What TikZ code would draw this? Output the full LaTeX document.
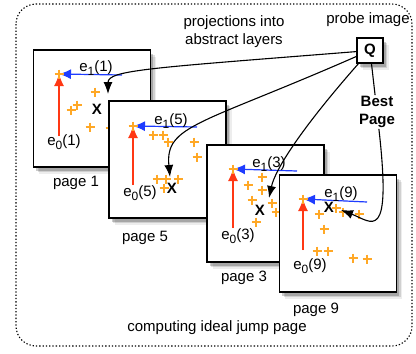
\documentclass[tikz,border=0pt]{standalone}
\usepackage{fontspec}
\setmainfont{Liberation Sans}
\usetikzlibrary{arrows.meta, calc, shadows}
\definecolor{axisred}{RGB}{255,56,20}
\definecolor{axisblue}{RGB}{30,60,255}
\definecolor{dotorange}{RGB}{255,168,38}
\newcommand{\lowidx}[1]{\raisebox{-0.6ex}{\fontsize{12}{12}\selectfont #1}}
\newcommand{\figfont}{\fontsize{15}{18}\selectfont}
\tikzset{
    soft_shadow/.style={
        general shadow={shadow xshift=5.5pt, shadow yshift=-6.5pt, fill=black, opacity=0.07},
        general shadow={shadow xshift=4pt, shadow yshift=-5pt, fill=black, opacity=0.12},
        general shadow={shadow xshift=2.5pt, shadow yshift=-3.5pt, fill=black, opacity=0.2}
    },
    page_box/.style={
        rectangle, draw=black, line width=1.1pt, fill=white,
        minimum width=117pt, minimum height=117pt, inner sep=0pt, soft_shadow
    },
    probe_box/.style={
        rectangle, draw=black, line width=1.1pt, fill=white,
        minimum width=26pt, minimum height=25pt, inner sep=0pt,
        font=\figfont\bfseries, soft_shadow
    },
    frame_line/.style={line width=1.1pt, dash pattern=on 1.3pt off 2pt, rounded corners=20pt},
    red_axis/.style={-{Latex[length=12pt, width=10pt]}, draw=axisred, fill=axisred, line width=1.2pt},
    blue_axis/.style={-{Latex[length=12pt, width=10pt]}, draw=axisblue, fill=axisblue, line width=1.2pt},
    jump_arrow/.style={-{Latex[length=12pt, width=9pt]}, draw=black, line width=1.1pt},
    plus_mark/.style={draw=dotorange, line width=1.3pt},
    lbl/.style={inner sep=1pt},
    cross_lbl/.style={inner sep=1pt, font=\figfont\bfseries}
}

\begin{document}
\begin{tikzpicture}[x=1pt, y=-1pt, font=\figfont]

    \useasboundingbox (0,0) rectangle (416,354);
    \draw[frame_line] (16,4) rectangle (412,346);

    \node[lbl, align=center] (proj) at (234,32) {projections into\\abstract layers};
    \node[lbl] (probe) at (368,20) {probe image};
    \node[lbl] (ideal) at (217,328) {computing ideal jump page};

    % page 1
    \node[page_box] (p1) at (92,108.5) {};
    \coordinate (c1) at (59,74);
    \coordinate (r1) at (59,136);
    \coordinate (b1) at (122,75);
    \draw[red_axis] (r1) -- (c1);
    \draw[blue_axis] (b1) -- (c1);
    \node[lbl] (e1p1) at (96,68) {e\lowidx{1}(1)};
    \node[lbl] (e0p1) at (64,142) {e\lowidx{0}(1)};
    \node[cross_lbl] (x1) at (97,109) {X};
    \foreach \px/\py in {59/74, 95/92, 71/110, 77/105, 90/127, 110/128}
        \draw[plus_mark] (\px,\py) +(-4.5,0) -- +(4.5,0) +(0,-4.5) -- +(0,4.5);
    \node[lbl] (name1) at (76,183) {page 1};

    % page 5
    \node[page_box] (p5) at (167.5,159.5) {};
    \coordinate (c5) at (133,126);
    \coordinate (r5) at (133,185);
    \coordinate (b5) at (197,127);
    \draw[red_axis] (r5) -- (c5);
    \draw[blue_axis] (b5) -- (c5);
    \node[lbl] (e1p5) at (171,121) {e\lowidx{1}(5)};
    \node[lbl] (e0p5) at (140,193) {e\lowidx{0}(5)};
    \node[cross_lbl] (x5) at (172,188) {X};
    \foreach \px/\py in {133/126, 153/135, 163/135, 168/142, 194/142, 197/157, 157/179, 166/179, 178/179, 164/188}
        \draw[plus_mark] (\px,\py) +(-4.5,0) -- +(4.5,0) +(0,-4.5) -- +(0,4.5);
    \node[lbl] (name5) at (145,238) {page 5};

    % page 3
    \node[page_box] (p3) at (265.5,203.5) {};
    \coordinate (c3) at (233,169);
    \coordinate (r3) at (233,228);
    \coordinate (b3) at (297,171);
    \draw[red_axis] (r3) -- (c3);
    \draw[blue_axis] (b3) -- (c3);
    \node[lbl] (e1p3) at (269,164) {e\lowidx{1}(3)};
    \node[lbl] (e0p3) at (238,236) {e\lowidx{0}(3)};
    \node[cross_lbl] (x3) at (260,210) {X};
    \foreach \px/\py in {233/169, 262/177, 248/185, 262/190, 252/200, 272/203, 276/212, 256/222}
        \draw[plus_mark] (\px,\py) +(-4.5,0) -- +(4.5,0) +(0,-4.5) -- +(0,4.5);
    \node[lbl] (name3) at (244,278) {page 3};

    % page 9
    \node[page_box] (p9) at (338,233.5) {};
    \coordinate (c9) at (303,199);
    \coordinate (r9) at (303,250);
    \coordinate (b9) at (367,202);
    \draw[red_axis] (r9) -- (c9);
    \draw[blue_axis] (b9) -- (c9);
    \node[lbl] (e1p9) at (341,194) {e\lowidx{1}(9)};
    \node[lbl] (e0p9) at (310,266) {e\lowidx{0}(9)};
    \node[cross_lbl] (x9) at (329,207) {X};
    \foreach \px/\py in {303/199, 319/214, 336/208, 343/212, 359/214, 324/229, 317/251, 328/251, 353/258, 367/259}
        \draw[plus_mark] (\px,\py) +(-4.5,0) -- +(4.5,0) +(0,-4.5) -- +(0,4.5);
    \node[lbl] (name9) at (316,310) {page 9};

    % probe and jumps
    \node[probe_box] (q) at (370,50.5) {Q};
    \node[lbl, align=center, font=\figfont\bfseries] (best) at (377,112) {Best\\Page};
    \coordinate (t1) at (108,94);
    \coordinate (t5) at (170,177);
    \coordinate (t3) at (269,198);
    \coordinate (t9) at (341,210);

    \draw[jump_arrow] (q) .. controls (150,68) and (108,70) .. (t1);
    \draw[jump_arrow] (q) .. controls (200,125) and (165,125) .. (t5);
    \draw[jump_arrow] (q) .. controls (300,130) and (275,170) .. (t3);
    \draw[line width=1.1pt] (q) -- (best);
    \draw[jump_arrow] (best) .. controls (392,245) and (372,222) .. (t9);

\end{tikzpicture}
\end{document}
